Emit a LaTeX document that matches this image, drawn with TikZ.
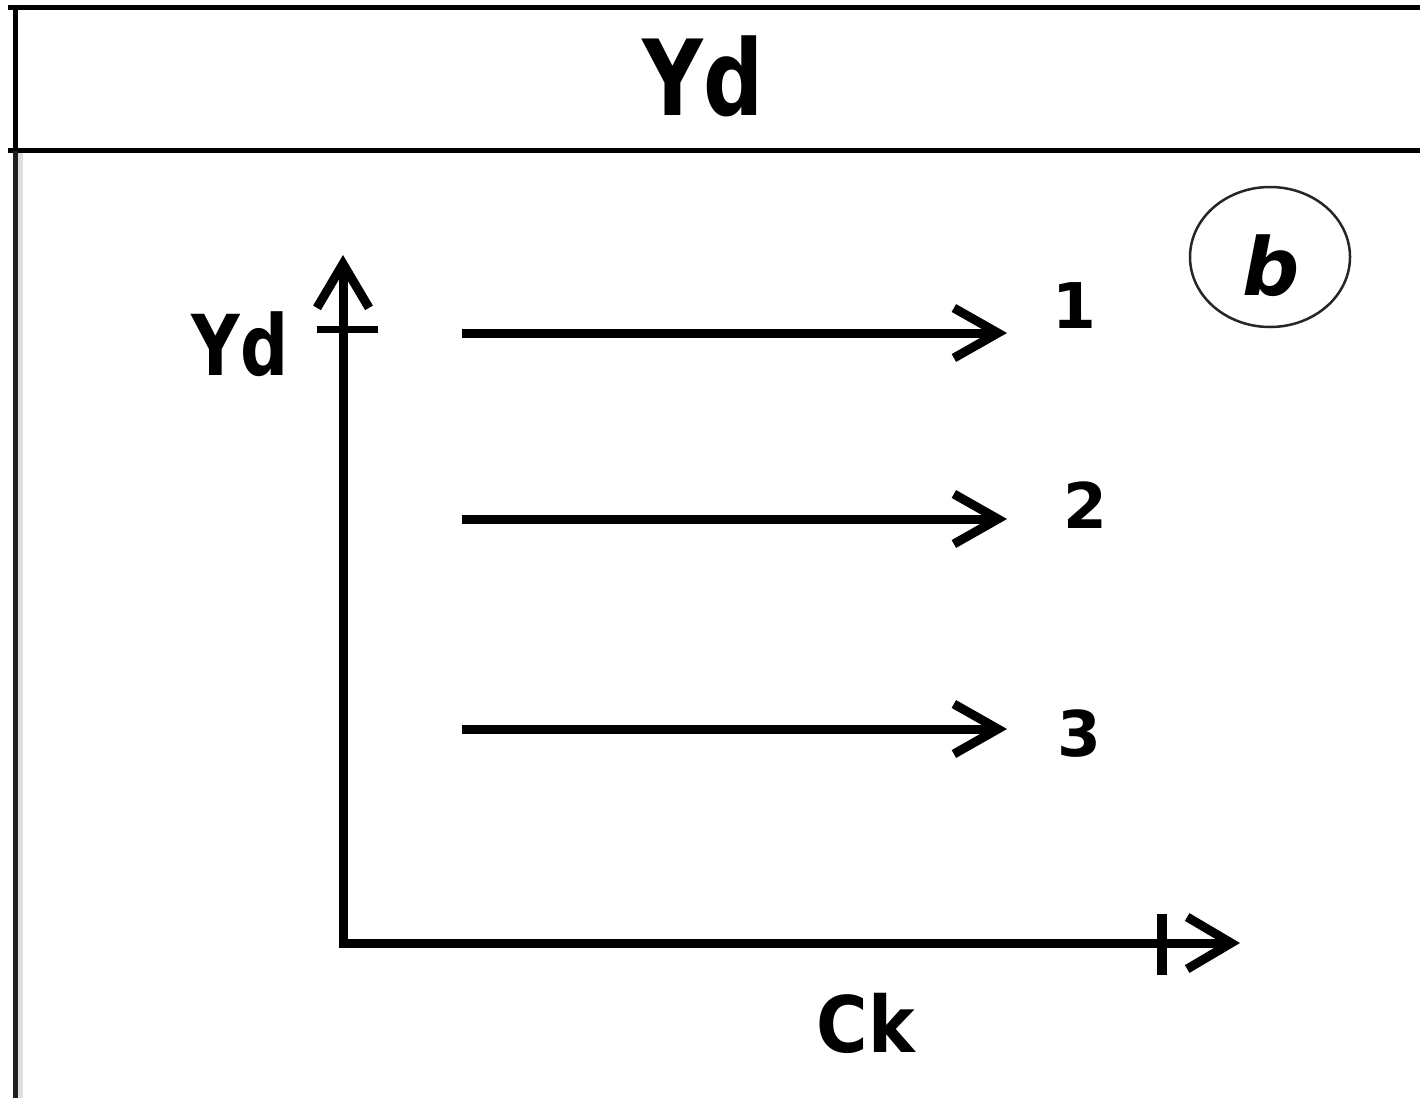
\documentclass[tikz,border=0pt]{standalone}
\usepackage{fontspec}
\setmainfont{DejaVu Sans}
\usetikzlibrary{arrows.meta,shapes.geometric}
\begin{document}
\begin{tikzpicture}[x=1pt,y=-1pt,
  frame/.style={line width=5.5pt,black},
  axis/.style={line width=9pt,black},
  barb/.style={-{Straight Barb[length=44pt,width=50pt]}},
  lbl/.style={inner sep=0pt,anchor=base}
]
\useasboundingbox[fill=white] (0,0) rectangle (1420,1098);
% frame
\coordinate (tl) at (8,7.5);
\coordinate (tr) at (1420,7.5);
\coordinate (ml) at (8,150.5);
\coordinate (mr) at (1420,150.5);
\coordinate (vt) at (15.5,7.5);
\coordinate (vm) at (15.5,150.5);
\coordinate (vb) at (15.5,1098);
\coordinate (gt) at (20.5,153);
\coordinate (gb) at (20.5,1098);
\draw[frame] (tl) -- (tr);
\draw[frame] (ml) -- (mr);
\draw[frame] (vt) -- (vm);
\draw[line width=5.5pt,color=black!88] (vm) -- (vb);
\draw[line width=5pt,color=black!13] (gt) -- (gb);
% title
\node[lbl] (title) at (703,115) {\fontsize{105}{110}\selectfont\bfseries\scalebox{0.8}[1]{Yd}};
% axes
\coordinate (ytip) at (343,255);
\coordinate (orig) at (343,943);
\coordinate (xtip) at (1240,943);
\draw[axis,{Straight Barb[length=44pt,width=52pt]}-{Straight Barb[length=44pt,width=52pt]}] (ytip) -- (orig) -- (xtip);
\coordinate (yt1) at (317,329);
\coordinate (yt2) at (378,329);
\draw[line width=7pt] (yt1) -- (yt2);
\coordinate (xt1) at (1162,914);
\coordinate (xt2) at (1162,975);
\draw[line width=10pt] (xt1) -- (xt2);
\node[lbl] (ylab) at (240,375) {\fontsize{84}{90}\selectfont\bfseries\scalebox{0.8}[1]{Yd}};
\node[lbl] (xlab) at (866,1052) {\fontsize{78}{80}\selectfont\bfseries\scalebox{0.9}[1]{Ck}};
% arrows
\coordinate (a1s) at (462,333);
\coordinate (a1e) at (1007,333);
\coordinate (a2s) at (462,519);
\coordinate (a2e) at (1007,519);
\coordinate (a3s) at (462,729);
\coordinate (a3e) at (1007,729);
\draw[axis,barb] (a1s) -- (a1e);
\draw[axis,barb] (a2s) -- (a2e);
\draw[axis,barb] (a3s) -- (a3e);
\node[lbl] (n1) at (1074,328) {\fontsize{63}{66}\selectfont\bfseries 1};
\node[lbl] (n2) at (1085,528) {\fontsize{63}{66}\selectfont\bfseries 2};
\node[lbl] (n3) at (1079,756) {\fontsize{63}{66}\selectfont\bfseries 3};
% circled b
\node[ellipse,draw,line width=2.5pt,color=black!85,minimum width=160pt,minimum height=140pt,inner sep=0pt] (circ) at (1270,257) {};
\node[lbl] (blab) at (1271,295) {\fontsize{80}{84}\selectfont\bfseries\itshape b};
\end{tikzpicture}
\end{document}
